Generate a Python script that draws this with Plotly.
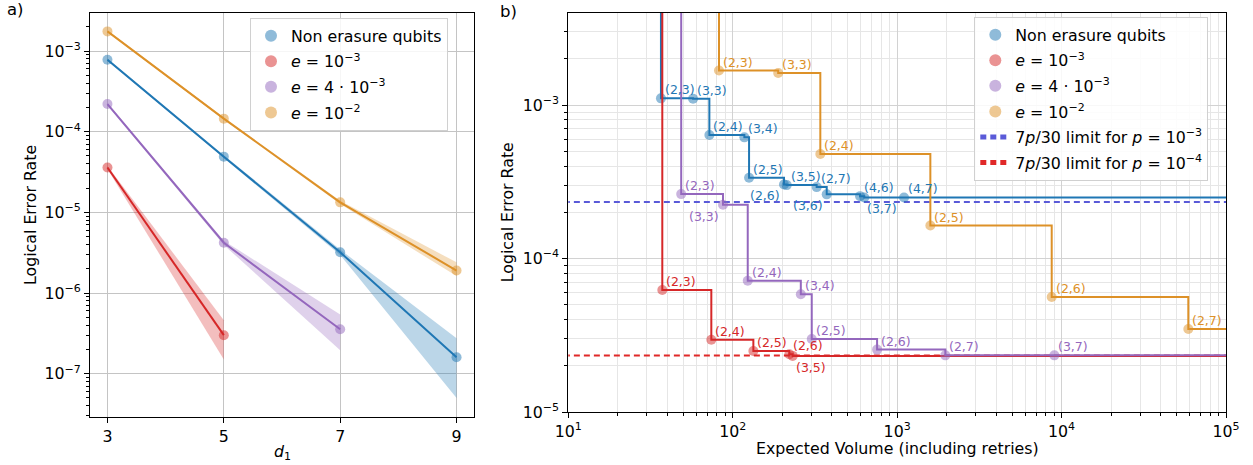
import numpy as np
import plotly.graph_objects as go

# ---------------- panel a) : logical error rate vs d1 ----------------
d1_vals = [3, 5, 7, 9]

ne_err = [7.8e-4, 4.9e-5, 3.2e-6, 1.6e-7]
ne_lo = [7.5e-4, 4.7e-5, 2.95e-6, 5.0e-8]
ne_hi = [8.1e-4, 5.1e-5, 3.45e-6, 2.75e-7]

e1_d1 = [3, 5]
e1_err = [3.6e-5, 3.0e-7]
e1_lo = [3.45e-5, 1.5e-7]
e1_hi = [3.75e-5, 4.6e-7]

e4_d1 = [3, 5, 7]
e4_err = [2.2e-4, 4.2e-6, 3.55e-7]
e4_lo = [2.12e-4, 3.95e-6, 1.95e-7]
e4_hi = [2.28e-4, 4.45e-6, 5.4e-7]

e10_err = [1.75e-3, 1.45e-4, 1.33e-5, 1.9e-6]
e10_lo = [1.71e-3, 1.41e-4, 1.27e-5, 1.62e-6]
e10_hi = [1.79e-3, 1.49e-4, 1.39e-5, 2.4e-6]

# ---------------- panel b) : error rate vs expected volume ----------------
ne_vol = [36.6, 57.4, 72.1, 117.7, 125.7, 205, 213, 324, 373, 595, 631, 1101]
ne_ler = [1.106e-3, 1.10e-3, 6.38e-4, 6.16e-4, 3.36e-4, 3.04e-4, 3.01e-4,
          2.92e-4, 2.62e-4, 2.55e-4, 2.50e-4, 2.50e-4]
ne_lab = ["(2,3)", "(3,3)", "(2,4)", "(3,4)", "(2,5)", "(2,6)", "(3,5)",
          "(2,7)", "(3,6)", "(4,6)", "(3,7)", "(4,7)"]
ne_pos = ["ur", "ur", "ur", "ur", "ur", "bl", "ur", "ur", "bl", "ur", "br", "ur"]

r1_vol = [37.3, 74.1, 133.5, 221, 231.5]
r1_ler = [6.24e-5, 2.96e-5, 2.50e-5, 2.38e-5, 2.32e-5]
r1_lab = ["(2,3)", "(2,4)", "(2,5)", "(2,6)", "(3,5)"]
r1_pos = ["ur", "ur", "ur", "ur", "br"]

r4_vol = [48.6, 87.3, 123.4, 259.5, 302.4, 755, 1964, 9040]
r4_ler = [2.63e-4, 2.24e-4, 7.17e-5, 5.85e-5, 2.99e-5, 2.55e-5, 2.34e-5, 2.34e-5]
r4_lab = ["(2,3)", "(3,3)", "(2,4)", "(3,4)", "(2,5)", "(2,6)", "(2,7)", "(3,7)"]
r4_pos = ["ur", "bl", "ur", "ur", "ur", "ur", "ur", "ur"]

r10_vol = [82.5, 189, 341, 1592, 8710, 59000]
r10_ler = [1.68e-3, 1.62e-3, 4.80e-4, 1.64e-4, 5.61e-5, 3.47e-5]
r10_lab = ["(2,3)", "(3,3)", "(2,4)", "(2,5)", "(2,6)", "(2,7)"]
r10_pos = ["ur", "ur", "ur", "ur", "ur", "ur"]

p_limits = [1e-3, 1e-4]

BLUE = "#1f77b4"
RED = "#d62728"
PURPLE = "#9467bd"
ORANGE = "#dd9128"
DASH_BLUE = "#5a5ad8"
DASH_RED = "#e02828"

FONT = "DejaVu Sans"
FS = 15.8


def rgba(hex_color, a):
    h = hex_color.lstrip("#")
    r, g, b = int(h[0:2], 16), int(h[2:4], 16), int(h[4:6], 16)
    return f"rgba({r},{g},{b},{a})"


fig = go.Figure()

# ---- panel a traces ----
series_a = [
    ("Non erasure qubits", d1_vals, ne_err, ne_lo, ne_hi, BLUE),
    ("<i>e</i> = 10<sup>−3</sup>", e1_d1, e1_err, e1_lo, e1_hi, RED),
    ("<i>e</i> = 4 · 10<sup>−3</sup>", e4_d1, e4_err, e4_lo, e4_hi, PURPLE),
    ("<i>e</i> = 10<sup>−2</sup>", d1_vals, e10_err, e10_lo, e10_hi, ORANGE),
]
for i, (name, xs, ys, lo, hi, col) in enumerate(series_a):
    fig.add_trace(go.Scatter(
        x=list(xs) + list(xs)[::-1], y=list(hi) + list(lo)[::-1],
        fill="toself", fillcolor=rgba(col, 0.3), line=dict(width=0),
        mode="lines", showlegend=False, hoverinfo="skip",
        xaxis="x", yaxis="y"))
    fig.add_trace(go.Scatter(
        x=xs, y=ys, mode="lines", line=dict(color=col, width=2),
        showlegend=False, xaxis="x", yaxis="y"))
    fig.add_trace(go.Scatter(
        x=xs, y=ys, mode="markers", name=name, legendgroup=f"a{i}",
        marker=dict(color=rgba(col, 0.5), size=10, line=dict(width=0)),
        legend="legend", xaxis="x", yaxis="y"))

# ---- panel b traces ----
X_END = 1e6   # frontier continues past the right edge
Y_TOP = 1.0   # and rises past the top edge

series_b = [
    ("Non erasure qubits", ne_vol, ne_ler, ne_lab, ne_pos, BLUE),
    ("<i>e</i> = 10<sup>−3</sup>", r1_vol, r1_ler, r1_lab, r1_pos, RED),
    ("<i>e</i> = 4 · 10<sup>−3</sup>", r4_vol, r4_ler, r4_lab, r4_pos, PURPLE),
    ("<i>e</i> = 10<sup>−2</sup>", r10_vol, r10_ler, r10_lab, r10_pos, ORANGE),
]


def limit_name(p):
    exp = int(round(np.log10(p)))
    return f"7<i>p</i>/30 limit for <i>p</i> = 10<sup>−{abs(exp)}</sup>"


# dashed limit lines first so the step curves sit on top
for p, col in zip(p_limits, [DASH_BLUE, DASH_RED]):
    fig.add_trace(go.Scatter(
        x=[1, 1e6], y=[7 * p / 30, 7 * p / 30], mode="lines",
        line=dict(color=col, width=2, dash="6px,4px"),
        name=limit_name(p), legend="legend2", xaxis="x2", yaxis="y2",
        showlegend=False))

annotations = []
for i, (name, vols, lers, labs, poss, col) in enumerate(series_b):
    sx = [vols[0]] + list(vols) + [X_END]
    sy = [Y_TOP] + list(lers) + [lers[-1]]
    fig.add_trace(go.Scatter(
        x=sx, y=sy, mode="lines", line=dict(color=col, width=2, shape="hv"),
        showlegend=False, xaxis="x2", yaxis="y2"))
    fig.add_trace(go.Scatter(
        x=vols, y=lers, mode="markers", name=name, legendgroup=f"b{i}",
        marker=dict(color=rgba(col, 0.5), size=10, line=dict(width=0)),
        legend="legend2", xaxis="x2", yaxis="y2"))
    for v, e, lab, pos in zip(vols, lers, labs, poss):
        if pos == "ur":
            xa, ya, xs_, ys_ = "left", "bottom", 2, -1
        elif pos == "bl":
            xa, ya, xs_, ys_ = "right", "top", -2, -2
        else:
            xa, ya, xs_, ys_ = "left", "top", 1, -2
        annotations.append(dict(
            x=np.log10(v), y=np.log10(e), xref="x2", yref="y2", text=lab,
            showarrow=False, xanchor=xa, yanchor=ya, xshift=xs_, yshift=ys_,
            font=dict(family=FONT, size=12.5, color=col)))

# legend-only entries for the dashed limits
for j, (p, col) in enumerate(zip(p_limits, [DASH_BLUE, DASH_RED])):
    fig.add_trace(go.Scatter(
        x=[None], y=[None], mode="lines", legendgroup=f"lim{j}",
        line=dict(color=col, width=2, dash="6px,4px"),
        name=limit_name(p), legend="legend2", xaxis="x2", yaxis="y2"))

W, H = 1253, 465
# panel geometry in pixels: left, right, top, bottom
AX_L = (90, 474, 13, 417)
AX_R = (568.3, 1226, 13, 412)


def dom_x(a):
    return [a[0] / W, a[1] / W]


def dom_y(a):
    return [1 - a[3] / H, 1 - a[2] / H]


def sup_label(e):
    return f"10<sup>{'−' if e < 0 else ''}{abs(e)}</sup>"


def minor_vals(lo, hi):
    vals = []
    for e in range(lo, hi):
        for k in range(2, 10):
            vals.append(k * 10.0 ** e)
    return vals


axis_common = dict(
    showline=True, linecolor="black", linewidth=1.1, mirror=True,
    ticks="outside", ticklen=5, tickwidth=1.1, tickcolor="black",
    tickfont=dict(family=FONT, size=FS, color="black"),
    zeroline=False, automargin=False,
)

ly_major = list(range(-7, -2))
ry_major = list(range(-5, -2))
rx_major = list(range(1, 6))

legend_common = dict(
    xanchor="left", yanchor="top",
    bgcolor="rgba(255,255,255,0.85)", bordercolor="#d0d0d0", borderwidth=1,
    font=dict(family=FONT, size=FS, color="black"),
    tracegroupgap=2, itemsizing="constant",
)

fig.update_layout(
    width=W, height=H,
    margin=dict(l=0, r=0, t=0, b=0, autoexpand=False),
    paper_bgcolor="white", plot_bgcolor="white",
    font=dict(family=FONT, size=FS, color="black"),
    xaxis=dict(
        domain=dom_x(AX_L), anchor="y", range=[2.7, 9.3],
        tickvals=d1_vals, ticktext=[str(v) for v in d1_vals],
        showgrid=True, gridcolor="#c4c4c4", gridwidth=1.2,
        **axis_common),
    yaxis=dict(
        domain=dom_y(AX_L), anchor="x", type="log", range=[-7.537, -2.529],
        tickvals=[10.0 ** e for e in ly_major],
        ticktext=[sup_label(e) for e in ly_major],
        showgrid=True, gridcolor="#c4c4c4", gridwidth=1.2,
        minor=dict(tickvals=minor_vals(-8, -2), ticks="outside", ticklen=3,
                   tickcolor="black", tickwidth=0.8, showgrid=False),
        **axis_common),
    xaxis2=dict(
        domain=dom_x(AX_R), anchor="y2", type="log", range=[1, 5],
        tickvals=[10.0 ** e for e in rx_major],
        ticktext=[sup_label(e) for e in rx_major],
        showgrid=True, gridcolor="#d2d2d2", gridwidth=1.1,
        minor=dict(tickvals=minor_vals(1, 5), ticks="outside", ticklen=3,
                   tickcolor="black", tickwidth=0.8, showgrid=True,
                   gridcolor="#e6e6e6", gridwidth=1),
        **axis_common),
    yaxis2=dict(
        domain=dom_y(AX_R), anchor="x2", type="log", range=[-5, -2.4],
        tickvals=[10.0 ** e for e in ry_major],
        ticktext=[sup_label(e) for e in ry_major],
        showgrid=True, gridcolor="#d2d2d2", gridwidth=1.1,
        minor=dict(tickvals=minor_vals(-5, -2), ticks="outside", ticklen=3,
                   tickcolor="black", tickwidth=0.8, showgrid=True,
                   gridcolor="#e6e6e6", gridwidth=1),
        **axis_common),
    legend=dict(x=250 / W, y=1 - 18 / H, **legend_common),
    legend2=dict(x=974.3 / W, y=1 - 17 / H, **legend_common),
    showlegend=True,
)

# axis titles and panel letters
annotations += [
    dict(x=30 / W, y=1 - 215 / H, xref="paper", yref="paper",
         text="Logical Error Rate", textangle=-90, showarrow=False,
         xanchor="center", yanchor="middle", font=dict(family=FONT, size=FS)),
    dict(x=507.3 / W, y=1 - 212 / H, xref="paper", yref="paper",
         text="Logical Error Rate", textangle=-90, showarrow=False,
         xanchor="center", yanchor="middle", font=dict(family=FONT, size=FS)),
    dict(x=282 / W, y=1 - 452 / H, xref="paper", yref="paper",
         text="<i>d</i><sub>1</sub>", showarrow=False,
         xanchor="center", yanchor="middle", font=dict(family=FONT, size=FS)),
    dict(x=897 / W, y=1 - 448 / H, xref="paper", yref="paper",
         text="Expected Volume (including retries)", showarrow=False,
         xanchor="center", yanchor="middle", font=dict(family=FONT, size=FS)),
    dict(x=5 / W, y=1 - 10 / H, xref="paper", yref="paper",
         text="a)", showarrow=False, xanchor="left", yanchor="middle",
         font=dict(family=FONT, size=16.5)),
    dict(x=498 / W, y=1 - 11 / H, xref="paper", yref="paper",
         text="b)", showarrow=False, xanchor="left", yanchor="middle",
         font=dict(family=FONT, size=16.5)),
]
fig.update_layout(annotations=annotations)

fig.write_html("out.html")
